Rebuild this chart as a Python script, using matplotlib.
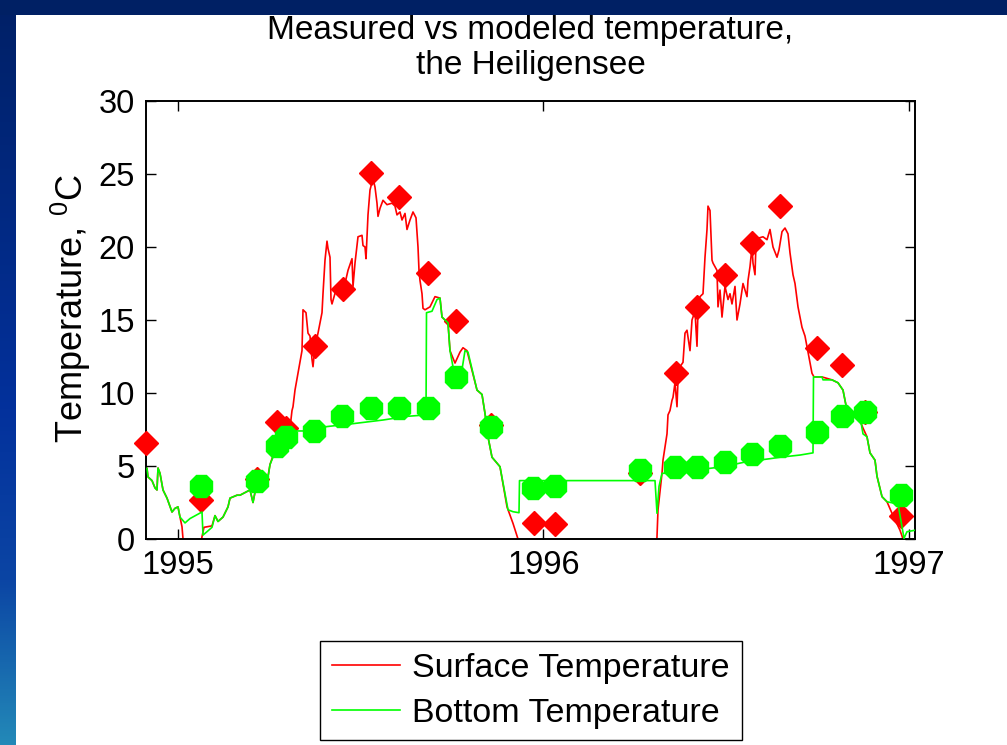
import matplotlib.pyplot as plt
import numpy as np
from matplotlib.colors import LinearSegmentedColormap
from matplotlib.patches import Rectangle

plt.rcParams['font.family'] = ['Liberation Sans', 'DejaVu Sans']
plt.rcParams['mathtext.default'] = 'regular'

# days since 1 Jan 1995
surf_day = [-31, -30, -26, -23, -21, -20, -18, -15, -11, -6, -3, 0, 2, 4, 6, 22, 24, 26, 34, 37,
            40, 45, 50, 52, 59, 62, 72, 75, 77, 80, 90, 92, 95, 102, 108, 112, 114, 115, 117, 120,
            124, 125, 128, 130, 132, 134, 135, 137, 140, 144, 145, 147, 149, 150, 152, 153, 154, 159, 165, 170,
            174, 175, 177, 180, 184, 185, 187, 188, 190, 192, 195, 197, 199, 200, 202, 205, 209, 214, 217, 219,
            222, 224, 227, 229, 232, 235, 238, 240, 241, 242, 244, 245, 247, 252, 257, 262, 264, 270, 272, 277,
            282, 285, 289, 299, 304, 307, 310, 314, 319, 322, 329, 335, 340, 342, 478, 479, 480, 484, 485, 489,
            490, 492, 494, 495, 497, 499, 500, 502, 505, 507, 509, 512, 514, 517, 519, 520, 522, 525, 527, 529,
            530, 532, 534, 535, 539, 540, 542, 544, 547, 550, 552, 554, 557, 559, 562, 565, 569, 570, 572, 574,
            575, 577, 578, 580, 585, 589, 592, 595, 599, 601, 604, 607, 610, 612, 615, 617, 620, 624, 627, 630,
            634, 636, 644, 654, 660, 665, 669, 679, 685, 689, 692, 697, 699, 704, 709, 714, 722, 725, 727, 737]
surf_temp = [4.84, 4.25, 4.0, 3.5, 3.36, 4.86, 4.5, 3.36, 2.8, 1.85, 2.1, 2.2, 1.5, 0.84, -0.8, -0.8, 0.16, 0.8, 0.9, 1.6,
             1.2, 1.5, 2.2, 2.8, 3.0, 3.0, 3.36, 2.5, 3.2, 3.9, 4.3, 5.1, 5.7, 6.8, 7.3, 7.6, 8.8, 9.06, 10.2, 11.35,
             12.9, 15.7, 15.5, 14.1, 13.9, 12.3, 11.8, 13.2, 14.1, 15.5, 16.8, 19.1, 20.4, 19.9, 19.3, 16.4, 16.1, 17.3, 16.9, 18.4,
             19.2, 17.3, 18.9, 20.7, 20.8, 20.1, 20.0, 19.2, 22.2, 23.9, 24.7, 24.1, 23.0, 22.1, 22.65, 23.2, 22.9, 23.0, 22.8, 22.2,
             22.4, 21.85, 22.3, 21.2, 21.85, 22.4, 22.0, 20.0, 18.4, 17.7, 16.8, 15.8, 15.7, 15.9, 16.6, 16.5, 15.2, 14.8, 12.9, 12.05,
             12.8, 13.1, 12.9, 10.2, 9.9, 8.6, 7.0, 5.6, 5.2, 4.95, 2.2, 1.07, 0.0, -1.0, -1.0, 0.16, 2.0, 4.5, 5.4, 7.2,
             8.5, 8.8, 9.5, 9.7, 10.7, 9.06, 10.9, 11.8, 12.1, 14.1, 14.3, 12.9, 15.0, 15.6, 13.2, 15.7, 16.6, 16.8, 19.3, 21.2,
             22.8, 22.5, 19.1, 18.9, 18.4, 15.9, 17.05, 15.2, 17.3, 16.4, 16.8, 16.1, 17.3, 15.0, 16.1, 17.5, 16.6, 17.7, 18.65, 20.0,
             18.9, 18.1, 20.25, 20.6, 20.7, 20.5, 21.2, 20.0, 19.3, 19.8, 21.05, 21.3, 20.9, 19.6, 18.1, 17.5, 15.9, 14.5, 13.9, 12.8,
             11.35, 11.1, 11.1, 10.9, 10.7, 10.2, 8.8, 8.6, 7.6, 7.0, 5.9, 5.4, 4.3, 2.9, 2.55, 1.76, 0.6, 0.0, -1.0, -1.0]

bot_day = [-31, -30, -26, -23, -21, -20, -18, -15, -11, -6, -3, 0, 2, 7, 12, 24, 25, 29, 34, 37,
           40, 45, 50, 52, 59, 62, 72, 75, 77, 80, 90, 92, 95, 102, 115, 125, 149, 175, 205, 229,
           248, 248.5, 254, 259, 262, 264, 270, 272, 275, 284, 287, 290, 299, 304, 307, 310, 314, 319, 322, 330,
           335, 341, 341.5, 477, 479, 481, 484, 489, 515, 545, 569, 592, 602, 622, 635, 635.5, 644, 645, 654, 660,
           665, 669, 679, 682, 685, 689, 692, 697, 699, 704, 709, 720, 724, 726, 729, 737]
bot_temp = [4.84, 4.25, 4.0, 3.5, 3.36, 4.86, 4.5, 3.36, 2.8, 1.85, 2.1, 2.2, 1.5, 1.1, 1.4, 1.85, 0.27, 0.5, 0.8, 1.6,
            1.2, 1.5, 2.2, 2.8, 3.0, 3.0, 3.36, 2.5, 3.2, 3.7, 4.2, 5.1, 5.6, 6.6, 7.4, 7.4, 7.7, 7.9, 8.15, 8.4,
            8.5, 15.5, 15.6, 16.4, 16.5, 15.2, 14.8, 12.9, 11.8, 11.6, 12.9, 12.8, 10.2, 9.9, 8.6, 7.0, 5.6, 5.2, 4.95, 2.0,
            1.87, 1.8, 4.0, 4.0, 1.76, 3.6, 4.5, 4.5, 4.7, 4.95, 5.3, 5.5, 5.6, 5.75, 5.9, 11.1, 11.1, 10.9, 10.9, 10.7,
            10.2, 8.8, 8.6, 8.4, 7.2, 7.0, 5.9, 5.4, 4.3, 2.9, 2.55, 2.4, 0.84, 0.05, 0.5, 0.6]

# measured values
meas_surf_day = [-32, 23, 79, 99, 108, 137, 165, 193, 221, 250, 278, 313, 356, 377, 462, 498, 519, 547, 574, 602, 639, 664, 687, 723]
meas_surf_temp = [6.6, 2.7, 4.1, 8.0, 7.6, 13.2, 17.1, 25.1, 23.4, 18.2, 14.9, 7.8, 1.1, 1.0, 4.5, 11.4, 15.9, 18.1, 20.3, 22.8, 13.1, 11.9, 8.7, 1.6]
meas_bot_day = [23, 79, 99, 108, 136, 164, 193, 221, 250, 278, 313, 355, 377, 462, 497, 519, 547, 574, 602, 639, 664, 687, 723]
meas_bot_temp = [3.6, 4.0, 6.4, 7.0, 7.4, 8.4, 9.0, 9.0, 9.0, 11.1, 7.7, 3.5, 3.6, 4.7, 4.9, 4.9, 5.3, 5.8, 6.4, 7.3, 8.4, 8.7, 3.0]

years = [1995, 1996, 1997]


def to_year(d):
    return 1995 + np.asarray(d, dtype=float) / 365.25


fig = plt.figure(figsize=(10.07, 7.45), dpi=100)

# slide background bands
bg = fig.add_axes([0, 0, 1, 1], zorder=-10)
bg.set_xlim(0, 1007)
bg.set_ylim(745, 0)
bg.axis('off')
band = LinearSegmentedColormap.from_list(
    'band', [(0, '#002066'), (0.55, '#03319c'), (0.78, '#0b45a4'), (1, '#2389b8')])
bg.imshow(np.linspace(0, 1, 256).reshape(-1, 1), cmap=band, aspect='auto',
          extent=(0, 16, 745, 0), origin='upper')
bg.add_patch(Rectangle((0, 0), 1007, 15, color='#002064', lw=0))

ax = fig.add_axes([146 / 1007, 1 - 539 / 745, (915 - 146) / 1007, (539 - 101) / 745])

l1, = ax.plot(to_year(surf_day), surf_temp, color='#ff0000', lw=1.2, zorder=2)
ax.plot(to_year(meas_surf_day), meas_surf_temp, ls='none', marker='D', ms=12.5,
        color='#ff0000', mec='#ff0000', zorder=3, clip_on=False)
l2, = ax.plot(to_year(bot_day), bot_temp, color='#00ff00', lw=1.2, zorder=4)
ax.plot(to_year(meas_bot_day), meas_bot_temp, ls='none', marker='8', ms=17,
        color='#00ff00', mec='#00ff00', zorder=5, clip_on=False)

ax.set_xlim(to_year(-32), to_year(737))
ax.set_ylim(0, 30)
ax.set_xticks(years)
ax.set_xticklabels([str(y) for y in years])
ax.set_yticks(np.arange(0, 31, 5))
ax.tick_params(direction='in', length=7, width=1.0, top=True, right=True,
               labelsize=23.5, pad=8)
for s in ax.spines.values():
    s.set_linewidth(1.4)

fig.text(530.5 / 1007, 1 - 48 / 745, 'Measured vs modeled temperature,\nthe Heiligensee',
         ha='center', va='center', fontsize=24, linespacing=1.13)
fig.text(71 / 1007, 1 - 309 / 745, 'Temperature, $^{0}$C', rotation=90,
         ha='center', va='center', fontsize=26)

leg = fig.legend([l1, l2], ['Surface Temperature', 'Bottom Temperature'],
                 loc='upper center', bbox_to_anchor=(531 / 1007, 1 - 641 / 745),
                 borderaxespad=0, fontsize=24.5, fancybox=False, edgecolor='black',
                 framealpha=1, handlelength=2.0, handletextpad=0.35,
                 labelspacing=0.4, borderpad=0.35)
leg.get_frame().set_linewidth(1.0)

fig.savefig('out.png', dpi=100)
